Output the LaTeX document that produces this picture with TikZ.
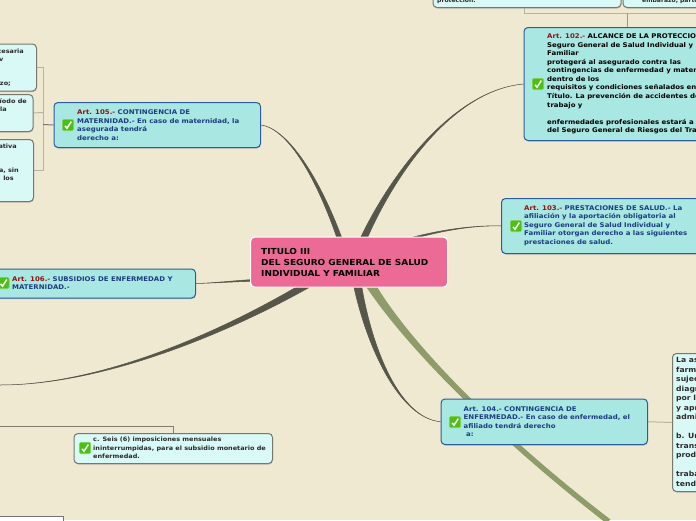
\documentclass[tikz,border=0pt]{standalone}
\usepackage{fontspec}
\setmainfont{DejaVu Sans}[BoldFeatures={FakeStretch=1.08}]
\usetikzlibrary{calc,shadows,backgrounds}
\definecolor{bgc}{HTML}{F0E9D2}
\definecolor{pinkc}{HTML}{EB6A96}
\definecolor{mainc}{HTML}{A9E7E2}
\definecolor{mainb}{HTML}{2B5C9E}
\definecolor{subc}{HTML}{D9F9F7}
\definecolor{subb}{HTML}{77776E}
\definecolor{blu}{HTML}{1C3C80}
\definecolor{redd}{HTML}{8E1212}
\definecolor{dk}{HTML}{2A2A2A}
\definecolor{tape}{HTML}{56564A}
\definecolor{olive}{HTML}{8E9C6A}
\definecolor{brk}{HTML}{B8B3A0}
\definecolor{grn}{HTML}{4CC010}
\newcommand\taper[6]{\path[fill=tape,draw=tape,line width=.5pt]
  ($(#1)+(#5,#6)$) .. controls ($(#2)+0.6*(#5,#6)$) and (#3) .. (#4)
  .. controls (#3) and ($(#2)-0.6*(#5,#6)$) .. ($(#1)-(#5,#6)$) -- cycle;}
\tikzset{
  x=1pt,y=-1pt,
  mainbox/.style={draw=mainb,line width=1pt,fill=mainc,rounded corners=4pt,anchor=north west,inner sep=0pt,
    drop shadow={shadow xshift=.4pt,shadow yshift=-1pt,opacity=.4}},
  subbox/.style={draw=subb,line width=1pt,fill=subc,rounded corners=4pt,anchor=north west,inner sep=0pt,
    drop shadow={shadow xshift=.4pt,shadow yshift=-1pt,opacity=.4}},
  maintext/.style={anchor=west,align=left,inner sep=0pt,text=blu,font=\fontsize{6.45}{8.55}\selectfont\bfseries},
  subtext/.style={anchor=west,align=left,inner sep=0pt,text=dk,font=\fontsize{6}{8.4}\selectfont\bfseries},
  rtext/.style={anchor=base east,align=right,inner sep=0pt,text=dk,font=\fontsize{6}{8.4}\selectfont\bfseries},
  bracket/.style={draw=brk,line width=1pt},
  chk/.pic={\path[fill=grn,draw=grn!70!white,line width=.6pt,rounded corners=1.5pt] (-5.7,-5.7) rectangle (5.7,5.7);
    \draw[white,line width=1.5pt] (-3,.8) -- (-1,3.2) -- (3.3,-3.4);}
}
\newcommand\art[1]{\textcolor{redd}{Art. #1.-}}
\begin{document}
\begin{tikzpicture}
\useasboundingbox (0,0) rectangle (696,520);
% nodes
\node[draw=white,line width=1.2pt,fill=pinkc,rounded corners=4pt,anchor=north west,inner sep=0pt,minimum width=197pt,minimum height=50pt] (title) at (250,236.5) {};
\node[anchor=west,align=left,inner sep=0pt,text=black,font=\fontsize{8.3}{11}\selectfont\bfseries] (titlet) at ([xshift=11pt]title.west) {TITULO III\\DEL SEGURO GENERAL DE SALUD\\INDIVIDUAL Y FAMILIAR};

\node[mainbox,minimum width=206.5pt,minimum height=45pt] (a105) at (53.5,102) {};
\node[maintext] (a105t) at (77,125) {\art{105} CONTINGENCIA DE\\MATERNIDAD.- En caso de maternidad, la\\asegurada tendrá\\derecho a:};
\pic at (68,125) {chk};

\node[mainbox,minimum width=180pt,minimum height=113pt] (a102) at (523.5,27) {};
\node[maintext,text=black] (a102t) at (547,84) {\art{102} ALCANCE DE LA PROTECCIO\\Seguro General de Salud Individual y\\Familiar\\protegerá al asegurado contra las\\contingencias de enfermedad y mater\\dentro de los\\requisitos y condiciones señalados en\\Título. La prevención de accidentes de\\trabajo y\\[8.55pt]enfermedades profesionales estará a c\\del Seguro General de Riesgos del Tra};
\pic at (538,84) {chk};

\node[mainbox,minimum width=200pt,minimum height=55pt] (a103) at (501,198) {};
\node[maintext] (a103t) at (524,225.7) {\art{103} PRESTACIONES DE SALUD.- La\\afiliación y la aportación obligatoria al\\Seguro General de Salud Individual y\\Familiar otorgan derecho a las siguientes\\prestaciones de salud.};
\pic at (516,226) {chk};

\node[mainbox,minimum width=206.5pt,minimum height=45.5pt] (a104) at (440.5,398.5) {};
\node[maintext] (a104t) at (463.5,421.5) {Art. 104.- CONTINGENCIA DE\\ENFERMEDAD.- En caso de enfermedad, el\\afiliado tendrá derecho\\\hspace*{2.5pt}a:};
\pic at (455,422) {chk};

\node[mainbox,minimum width=205pt,minimum height=29pt] (a106) at (-10,268.5) {};
\node[maintext] (a106t) at (12,283) {\art{106} SUBSIDIOS DE ENFERMEDAD Y\\MATERNIDAD.-};
\pic at (3.5,283) {chk};

\node[subbox,minimum width=198.5pt,minimum height=30pt] (c) at (73.5,433) {};
\node[subtext] (ct) at (93,448) {c. Seis (6) imposiciones mensuales\\ininterrumpidas, para el subsidio monetario de\\enfermedad.};
\pic at (85,448) {chk};

\node[subbox,minimum width=46pt,minimum height=47pt] (l1) at (-10,43.5) {};
\node[rtext] (l1a) at (24,53.5) {cesaria};
\node[rtext] (l1b) at (3.5,61.5) {v};
\node[rtext] (l1c) at (11,85.5) {zo;};
\node[subbox,minimum width=42.5pt,minimum height=37pt] (l2) at (-10,94) {};
\node[rtext] (l2a) at (27,103) {ríodo de};
\node[rtext] (l2b) at (7,111.5) {la};
\node[subbox,minimum width=43pt,minimum height=62pt] (l3) at (-10,139) {};
\node[rtext] (l3a) at (17,148.5) {ativa};
\node[rtext] (l3b) at (19,172.5) {a, sin};
\node[rtext] (l3c) at (14,180.5) {los};

\node[subbox,minimum width=188pt,minimum height=20pt] (top1) at (432.5,-13) {};
\node[subtext,font=\fontsize{5.6}{7}\selectfont\bfseries] (top1t) at (437,1) {protección.};
\node[subbox,minimum width=90pt,minimum height=20pt] (top2) at (622.5,-13) {};
\node[subtext,font=\fontsize{5.6}{7}\selectfont\bfseries] (top2t) at (642,1) {embarazo, parto};

\node[subbox,minimum width=40pt,minimum height=138pt] (r1) at (672,353) {};
\node[subtext,font=\fontsize{7.1}{9.5}\selectfont\bfseries] (r1t) at (676,422) {La as\\farm\\sujec\\diagr\\por l\\y apr\\admi\\[9.5pt]b. Un\\trans\\prod\\[9.5pt]traba\\tend};

\node[draw=black!55,line width=1pt,fill=white,anchor=north west,inner sep=0pt,minimum width=73pt,minimum height=20pt] (w) at (-10,515.5) {};

\begin{pgfonlayer}{background}
\fill[bgc] (0,0) rectangle (696,520);
% tapered branches
\path[fill=olive] ($(title.south)+(15,-4)$) .. controls (407,349) and (499,440) .. (606,523)
  -- (610.5,519.5) .. controls (503,437) and (412,346) .. ($(title.south)+(26,-4)$) -- cycle;
\taper{$(title.north)+(-9.5,2)$}{315,170}{285,128}{a105.east}{2.5}{0}
\taper{$(title.north)+(14.5,2)$}{395,170}{455,90}{a102.west}{3.5}{0}
\taper{$(title.north)+(55,4)$}{440,230}{475,225}{a103.west}{0}{1}
\taper{$(title.west)+(10,18)$}{235,281}{215,283}{a106.east}{0}{1}
\taper{$(title.south)+(-42,-3)$}{220,335}{100,385}{0,385}{2}{2.8}
\taper{$(title.south)+(8.5,-2)$}{370,350}{400,418}{a104.west}{4}{0}
% brackets
\draw[bracket] (l1.east) -| (43,124);
\draw[bracket] (l2.east) -- (43,112.5);
\draw[bracket] (l3.east) -| (43,124);
\draw[draw=tape!80,line width=1pt] (43,124.5) -- (a105.west);
\draw[bracket] (524,6) |- (697,13);
\draw[draw=brk!85!black,line width=1pt] (627,13) -- (627,27);
\draw[bracket] (a104.east) -- (r1.west);
\draw[brk!70!black,line width=.7pt] (-1,426) -| (173,433);
\end{pgfonlayer}
\end{tikzpicture}
\end{document}
